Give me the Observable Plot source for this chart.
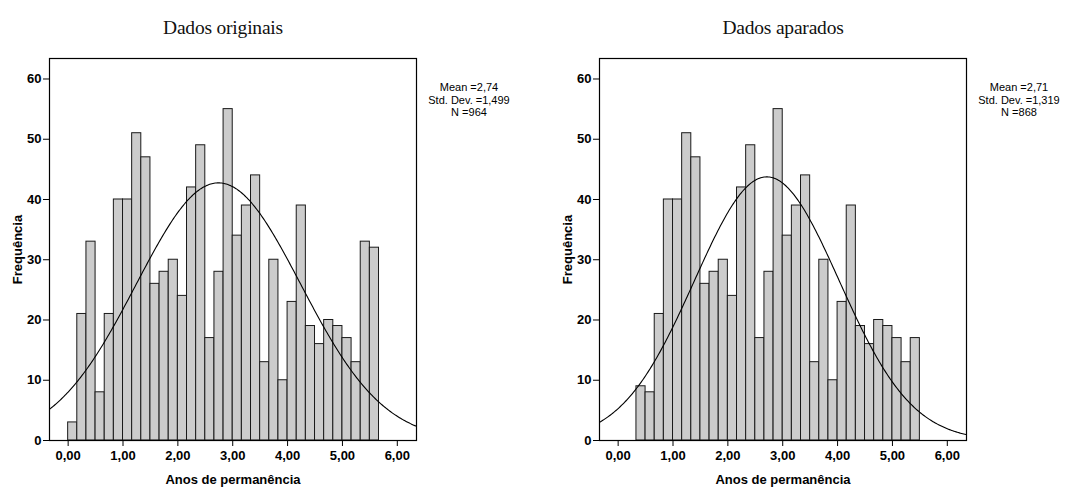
<!DOCTYPE html>
<html>
<head>
<meta charset="utf-8">
<script src="https://cdn.jsdelivr.net/npm/d3@7"></script>
<script src="https://cdn.jsdelivr.net/npm/@observablehq/plot@0.6"></script>
<style>
  body { margin: 0; background: #fff; }
  #wrap { position: relative; width: 1084px; height: 489px; overflow: hidden; }
  .panel { position: absolute; top: 0; }
  .title { position: absolute; top: 17px; font-family: "Liberation Serif", serif; font-size: 19.5px; color: #111; text-align: center; width: 360px; letter-spacing: -0.2px; }
  .stats { position: absolute; top: 81px; font-family: "Liberation Sans", Arial, sans-serif; font-size: 11px; line-height: 12.5px; text-align: center; width: 120px; color: #000; }
</style>
</head>
<body>
<div id="wrap"></div>
<script>
// ---- data ----
const titles = ["Dados originais", "Dados aparados"];
const binWidth = 1 / 6;
const originalStart = 0;
const originalCounts = [3, 21, 33, 8, 21, 40, 40, 51, 47, 26, 28, 30, 24, 42, 49, 17, 28, 55, 34, 39, 44, 13, 30, 10, 23, 39, 19, 16, 20, 19, 17, 13, 33, 32];
const trimmedStart = 1 / 3;
const trimmedCounts = [9, 8, 21, 40, 40, 51, 47, 26, 28, 30, 24, 42, 49, 17, 28, 55, 34, 39, 44, 13, 30, 10, 23, 39, 19, 16, 20, 19, 17, 13, 17];
const originalStats = { mean: 2.74, sd: 1.499, n: 964, meanLabel: "2,74", sdLabel: "1,499" };
const trimmedStats = { mean: 2.71, sd: 1.319, n: 868, meanLabel: "2,71", sdLabel: "1,319" };
const xTicks = [0, 1, 2, 3, 4, 5, 6];
const yTicks = [0, 10, 20, 30, 40, 50, 60];
const xLabel = "Anos de permanência";
const yLabel = "Frequência";

const xDomain = [-0.34, 6.35];
const yDomain = [0, 63.4];

function makePanel(left, titleCenter, title, start, counts, stats) {
  const bars = counts.map((c, i) => ({ x1: start + i * binWidth, x2: start + (i + 1) * binWidth, y: c }));
  const k = stats.n * binWidth / (stats.sd * Math.sqrt(2 * Math.PI));
  const curve = d3.range(xDomain[0], xDomain[1] + 0.001, 0.02).map(x => ({ x, y: k * Math.exp(-0.5 * ((x - stats.mean) / stats.sd) ** 2) }));

  const plot = Plot.plot({
    width: 534,
    height: 489,
    marginLeft: 49,
    marginRight: 118,
    marginTop: 58,
    marginBottom: 49,
    style: { fontFamily: "Liberation Sans, Arial, sans-serif", fontSize: "13px", color: "#000", background: "transparent" },
    x: { domain: xDomain },
    y: { domain: yDomain },
    marks: [
      Plot.rectY(bars, { x1: "x1", x2: "x2", y: "y", fill: "#cccccc", stroke: "#1a1a1a", strokeWidth: 1 }),
      Plot.line(curve, { x: "x", y: "y", stroke: "#000", strokeWidth: 1.1, clip: true }),
      Plot.frame({ stroke: "#000", strokeWidth: 1.2 }),
      Plot.axisX({ ticks: xTicks, tickFormat: d => d.toFixed(2).replace(".", ","), tickSize: 6, tickPadding: 4, fontWeight: "bold", fontSize: 13,
        label: xLabel, labelAnchor: "center", labelArrow: "none", labelOffset: 43 }),
      Plot.axisY({ ticks: yTicks, tickSize: 6, tickPadding: 2, fontWeight: "bold", fontSize: 13,
        label: yLabel, labelAnchor: "center", labelArrow: "none", labelOffset: 37 })
    ]
  });
  const div = document.createElement("div");
  div.className = "panel";
  div.style.left = left + "px";
  div.appendChild(plot);
  document.getElementById("wrap").appendChild(div);

  const t = document.createElement("div");
  t.className = "title";
  t.style.left = (left + titleCenter - 180) + "px";
  t.textContent = title;
  document.getElementById("wrap").appendChild(t);

  const s = document.createElement("div");
  s.className = "stats";
  s.style.left = (left + 469 - 60) + "px";
  s.innerHTML = `Mean =${stats.meanLabel}<br>Std. Dev. =${stats.sdLabel}<br>N =${stats.n}`;
  document.getElementById("wrap").appendChild(s);
}

makePanel(0, 223, titles[0], originalStart, originalCounts, originalStats);
makePanel(550, 233, titles[1], trimmedStart, trimmedCounts, trimmedStats);
</script>
</body>
</html>
